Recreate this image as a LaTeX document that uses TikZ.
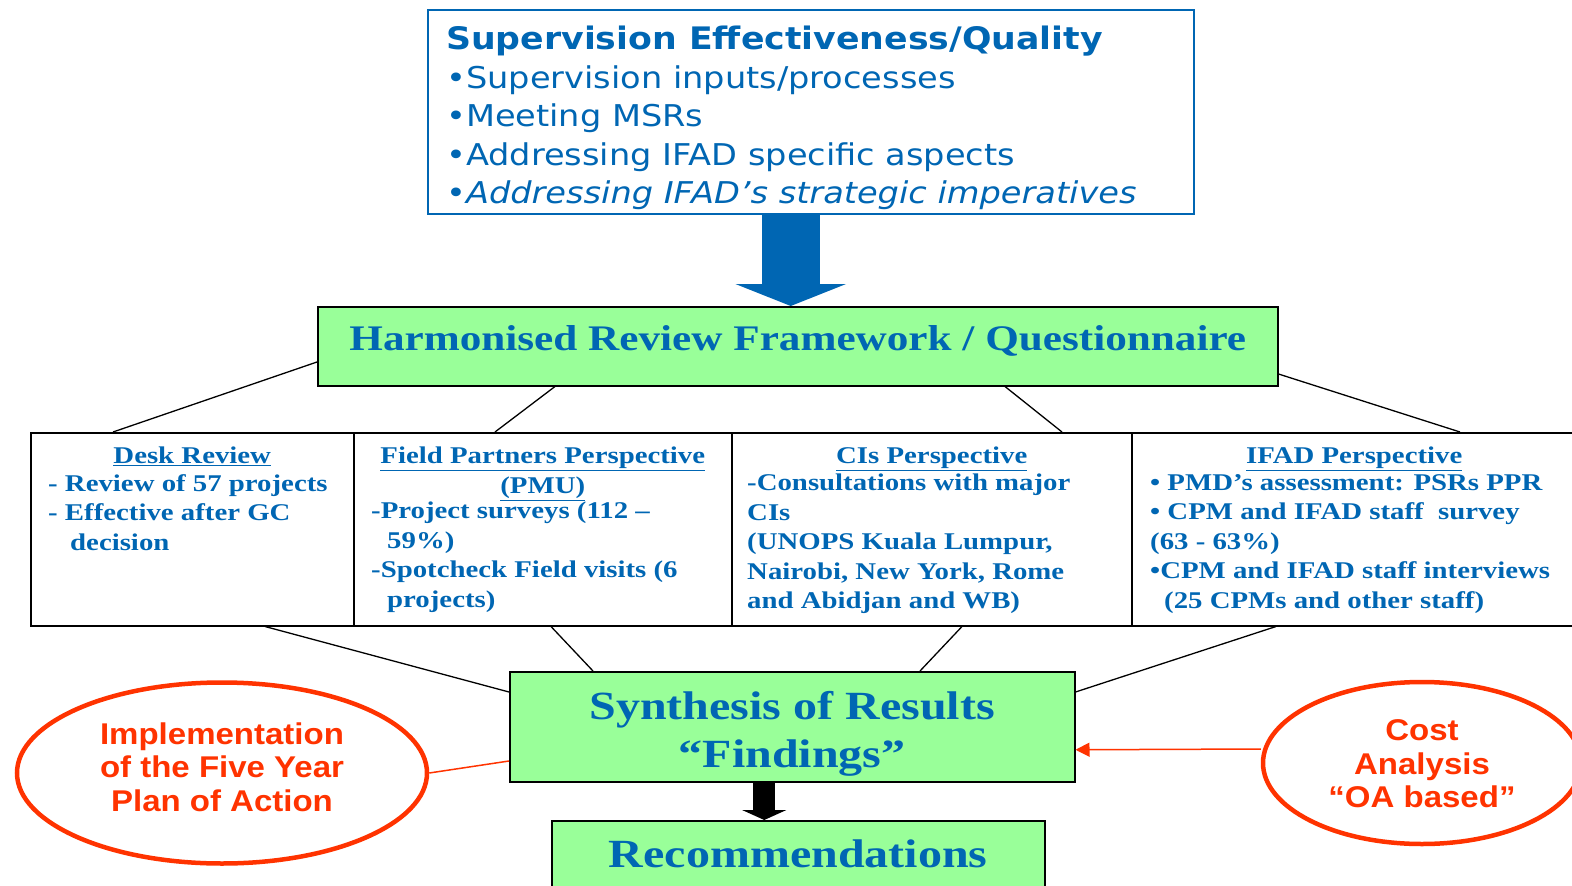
\documentclass[tikz,border=0pt]{standalone}
\usepackage{fontspec}
\setmainfont{Liberation Serif}[FakeStretch=1.2]
\newfontfamily\topfont[FakeStretch=1.12]{DejaVu Sans}
\newfontfamily\ovalfont[FakeStretch=1.1]{Liberation Sans}
\usetikzlibrary{positioning, shapes.geometric, arrows.meta}
\definecolor{colorBlue}{HTML}{0066B3}
\definecolor{colorGreen}{HTML}{99FF99}
\definecolor{colorRed}{HTML}{FF3300}

\begin{document}
\begin{tikzpicture}[x=1pt, y=-1pt,
    greenbox/.style={draw=black, line width=1.5pt, fill=colorGreen, inner sep=0pt, anchor=north west},
    rowbox/.style={draw=black, line width=1.5pt, inner sep=0pt, anchor=north west, minimum height=193pt},
    headtext/.style={text=colorBlue, font=\fontsize{24}{29.5}\selectfont\bfseries, align=center, inner sep=0pt, anchor=north},
    bodytext/.style={text=colorBlue, font=\fontsize{24}{29.5}\selectfont\bfseries, align=left, inner sep=0pt, anchor=north west},
    bigtext/.style={text=colorBlue, font=\fontsize{40}{48}\selectfont\bfseries, align=center, inner sep=0pt},
    oval/.style={ellipse, draw=colorRed, line width=4.5pt, inner sep=0pt},
    ovaltext/.style={text=colorRed, align=center, inner sep=0pt, font=\ovalfont\fontsize{30}{33.5}\selectfont\bfseries},
    link/.style={draw=black, line width=1.3pt},
    redlink/.style={draw=colorRed, line width=1.5pt}]
        \useasboundingbox (0,0) rectangle (1572,886);
        % top box
        \node[draw=colorBlue, line width=1.5pt, inner sep=0pt, anchor=north west, minimum width=766pt, minimum height=204pt] (quality) at (427,9) {};
        \node[anchor=north west, inner sep=0pt, align=left, text=colorBlue, font=\topfont\fontsize{30}{38.5}\selectfont] (qualitytext) at ([shift={(19pt,-17pt)}]quality.north west) {{\bfseries\fontsize{31}{38.5}\selectfont Supervision Effectiveness/Quality}\\•Supervision inputs/processes\\•Meeting MSRs\\•Addressing IFAD specific aspects\\{\itshape •Addressing IFAD’s strategic imperatives}};
        % framework
        \node[greenbox, minimum width=960pt, minimum height=79pt] (hrf) at (317,306) {};
        \node[bigtext, font=\fontsize{36}{44}\selectfont\bfseries] (hrftext) at ([yshift=-35pt]hrf.north) {Harmonised Review Framework / Questionnaire};
        \draw[colorBlue, line width=58pt, -{Triangle[length=22pt, width=110pt]}] ([xshift=-20pt]quality.south) -- ([xshift=-20pt]quality.south |- hrf.north);
        % four perspectives
        \node[rowbox, minimum width=323pt] (desk) at (30,432) {};
        \node[rowbox, minimum width=378pt] (field) at (353,432) {};
        \node[rowbox, minimum width=400pt] (cis) at (731,432) {};
        \node[rowbox, minimum width=445pt] (ifad) at (1131,432) {};
        \node[headtext] (deskhead) at ([yshift=-15pt]desk.north) {\underline{Desk Review}};
        \node[bodytext] (deskbody) at ([shift={(18pt,-42pt)}]desk.north west) {- Review of 57 projects\\- Effective after GC\\\hspace*{22pt}decision};
        \node[headtext] (fieldhead) at ([yshift=-15pt]field.north) {\underline{Field Partners Perspective}\\\underline{(PMU)}};
        \node[bodytext] (fieldbody) at ([shift={(18pt,-70pt)}]field.north west) {-Project surveys (112 –\\\hspace*{16pt}59\%)\\-Spotcheck Field visits (6\\\hspace*{16pt}projects)};
        \node[headtext] (cishead) at ([yshift=-15pt]cis.north) {\underline{CIs Perspective}};
        \node[bodytext] (cisbody) at ([shift={(16pt,-42pt)}]cis.north west) {-Consultations with major\\CIs\\(UNOPS Kuala Lumpur,\\Nairobi, New York, Rome\\and Abidjan and WB)};
        \node[headtext] (ifadhead) at ([yshift=-15pt]ifad.north) {\underline{IFAD Perspective}};
        \node[bodytext] (ifadbody) at ([shift={(19pt,-42pt)}]ifad.north west) {• PMD’s assessment: PSRs PPR\\• CPM and IFAD staff~ survey\\(63 - 63\%)\\•CPM and IFAD staff interviews\\\hspace*{14pt}(25 CPMs and other staff)};
        % synthesis and recommendations
        \node[greenbox, minimum width=565pt, minimum height=110pt] (synth) at (509,671) {};
        \node[bigtext] (synthtext) at ([yshift=-7pt]synth.center) {Synthesis of Results\\“Findings”};
        \node[greenbox, minimum width=493pt, minimum height=90pt] (rec) at (551,820) {};
        \node[bigtext] (rectext) at ([yshift=-34pt]rec.north) {Recommendations};
        \draw[black, line width=22pt, -{Triangle[length=10pt, width=44pt]}] ([xshift=-28pt]synth.south) -- ([xshift=-28pt]synth.south |- rec.north);
        % connectors
        \draw[link] ([yshift=-56pt]hrf.north west) -- ([xshift=83pt]desk.north west);
        \draw[link] ([xshift=238pt]hrf.south west) -- ([xshift=142pt]field.north west);
        \draw[link] ([xshift=688pt]hrf.south west) -- ([xshift=331pt]cis.north west);
        \draw[link] ([yshift=-68pt]hrf.north east) -- ([xshift=329pt]ifad.north west);
        \draw[link] ([xshift=235pt]desk.south west) -- ([yshift=-21pt]synth.north west);
        \draw[link] ([xshift=198pt]field.south west) -- ([xshift=84pt]synth.north west);
        \draw[link] ([xshift=231pt]cis.south west) -- ([xshift=411pt]synth.north west);
        \draw[link] ([xshift=145pt]ifad.south west) -- ([yshift=-21pt]synth.north east);
        % side ovals
        \node[oval, minimum width=410pt, minimum height=181pt] (plan) at (222,773) {};
        \node[ovaltext] (plantext) at ([yshift=6pt]plan.center) {Implementation\\of the Five Year\\Plan of Action};
        \node[oval, minimum width=318pt, minimum height=162pt] (cost) at (1422,763) {};
        \node[ovaltext] (costtext) at ([yshift=-1pt]cost.center) {Cost\\Analysis\\“OA based”};
        \draw[redlink] (plan.east) -- ([yshift=-90pt]synth.north west);
        \draw[redlink, -{Triangle[length=14pt, width=14pt]}] ([yshift=14pt]cost.west) -- ([yshift=-23pt]synth.east);
    \end{tikzpicture}
\end{document}
